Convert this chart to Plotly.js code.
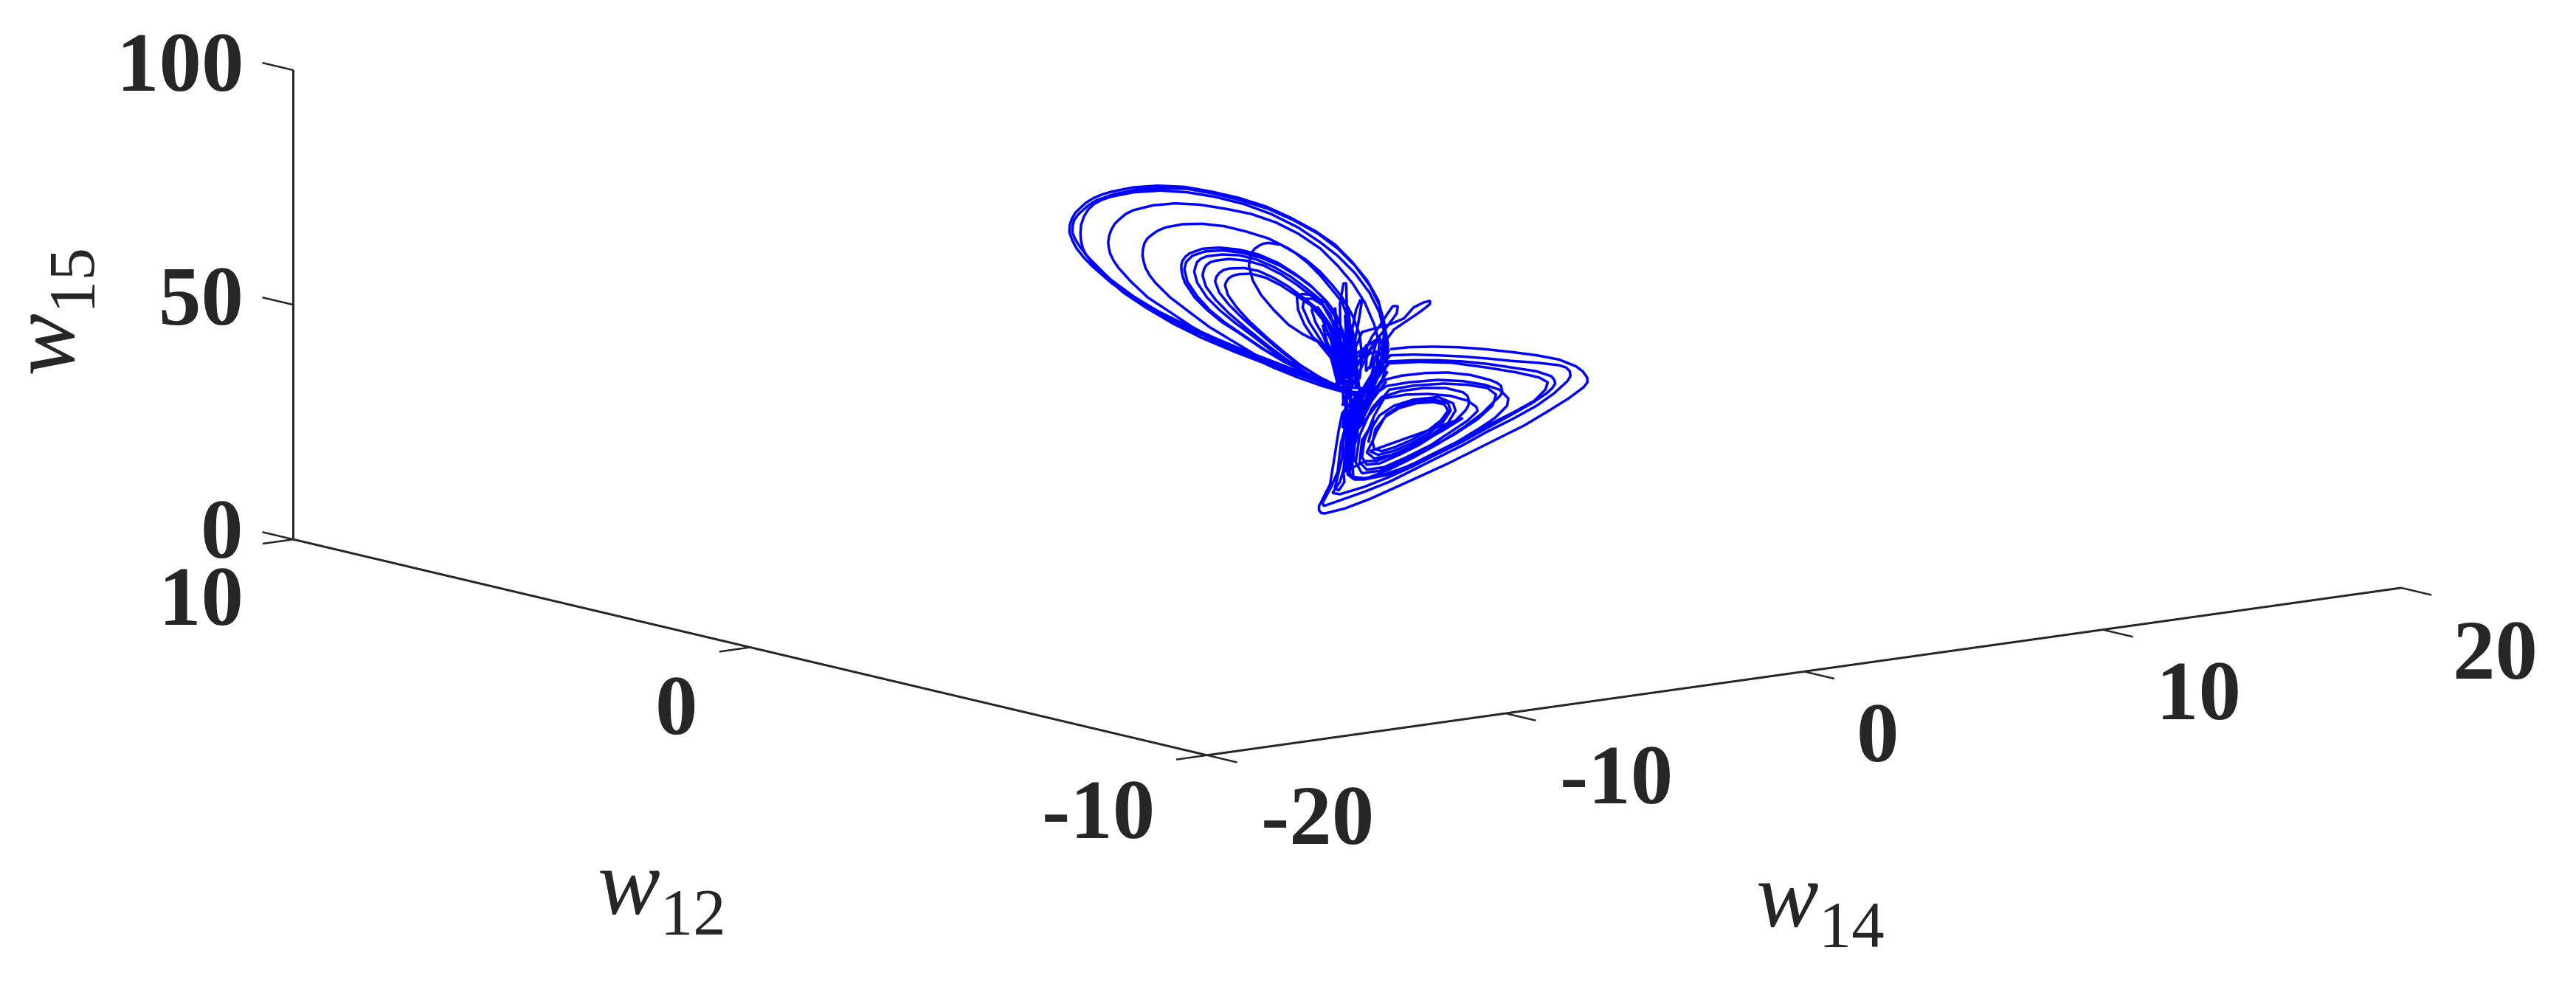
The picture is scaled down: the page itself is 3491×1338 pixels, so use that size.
<!DOCTYPE html>
<html><head><meta charset="utf-8">
<script src="https://cdn.plot.ly/plotly-3.0.1.min.js"></script>
<style>
html,body{margin:0;padding:0;background:#fff}
#chart{width:3491px;height:1338px}
</style></head><body><div id="chart"></div>
<script>
// Upper wing of the attractor, one row per visible loop (w14, w15; w12 is an estimated depth)
const w14Upper=[
3.22,2.56,1.74,0.75,-0.32,-1.39,-2.38,-3.20,-4.03,-4.85,-5.51,-5.78,-6.01,-6.15,-6.25,-6.24,-6.17,-6.05,-5.88,-5.68,-5.43,-5.16,-4.85,-4.11,-3.29,-2.38,-1.47,-0.57,0.34,1.16,1.99,2.65,3.22,3.72,4.09,4.29,4.42,4.38,4.21,3.88,
2.81,1.74,0.67,-0.40,-1.47,-2.46,-3.29,-4.11,-4.89,-5.47,-5.72,-5.92,-6.06,-6.15,-6.14,-6.09,-5.96,-5.80,-5.59,-5.35,-4.77,-4.03,-3.20,-2.30,-1.39,-0.49,0.42,1.25,2.07,2.73,3.31,3.80,4.13,4.29,4.34,4.13,3.64,
2.73,2.15,1.33,0.34,-0.73,-1.80,-2.79,-3.70,-4.44,-5.10,-5.51,-5.68,-5.80,-5.86,-5.88,-5.86,-5.76,-5.62,-5.43,-5.17,-4.85,-4.11,-3.20,-2.30,-1.39,-0.40,0.50,1.41,2.15,2.73,3.31,3.80,4.13,4.29,4.21,3.88,3.39,
2.23,1.41,0.59,-0.40,-1.31,-2.13,-2.87,-3.62,-4.19,-4.60,-4.77,-4.89,-4.93,-4.95,-4.92,-4.85,-4.73,-4.56,-4.36,-4.11,-3.45,-2.71,-1.89,-0.98,-0.16,0.67,1.41,2.15,2.73,3.22,3.64,3.96,4.13,4.05,3.64,
2.48,1.74,0.83,0.01,-0.81,-1.56,-2.22,-2.87,-3.37,-3.56,-3.70,-3.76,-3.80,-3.79,-3.74,-3.64,-3.49,-3.29,-3.04,-2.46,-1.80,-1.06,-0.32,0.42,1.08,1.66,2.15,2.56,2.89,3.22,3.47,3.55,3.47,
2.56,1.74,0.92,0.17,-0.49,-1.14,-1.64,-2.05,-2.38,-2.46,-2.50,-2.50,-2.46,-2.36,-2.22,-1.80,-1.23,-0.57,0.09,0.75,1.33,1.82,2.32,2.65,2.98,3.14,
2.65,1.82,1.00,0.26,-0.40,-1.06,-1.56,-1.97,-2.30,-2.40,-2.34,-2.13,-1.72,-1.14,-0.49,0.17,0.83,1.41,1.90,2.40,2.81,3.06,
2.73,2.15,1.41,0.67,-0.07,-0.73,-1.23,-1.64,-1.97,-2.07,-2.03,-1.97,-1.83,-1.64,-1.14,-0.57,0.01,0.59,1.16,1.66,2.07,2.48,2.89,3.14,
2.56,1.74,1.00,0.34,-0.32,-0.90,-1.35,-1.68,-1.79,-1.75,-1.68,-1.54,-1.35,-0.90,-0.32,0.26,0.83,1.33,1.82,2.23,2.65,2.98,3.22,
2.65,1.99,1.33,0.75,0.17,-0.40,-0.90,-1.23,-1.37,-1.33,-1.23,-1.09,-0.90,-0.40,0.09,0.59,1.08,1.58,1.99,2.40,2.73,2.98,
2.73,2.15,1.49,0.92,0.34,-0.24,-0.65,-0.94,-1.04,-0.99,-0.90,-0.75,-0.57,-0.16,0.34,0.83,1.33,1.82,2.23,2.56,2.81,
2.07,1.58,1.08,0.59,0.17,-0.11,-0.24,-0.16,-0.05,0.09,0.24,0.42,0.83,1.33,1.74,2.15,2.56,2.89,3.14,3.22,3.31,
1.90,1.62,1.41,1.37,1.53,1.90,2.32,2.65,2.89,
3.14,2.15,1.78,1.56,1.62,1.90,2.23,2.56,2.81,
3.06,2.32,1.99,1.86,2.07,2.48,2.73,2.81,
2.44,2.23,2.73,2.65,2.85,2.81,2.93,3.02,3.10,2.98,3.22,3.10,3.35,3.18,3.47,2.89,2.56,2.98,2.81,2.23,2.77,2.48,2.98,3.14,3.39,
3.31,3.22,3.35,3.50,3.54,3.43,3.31,3.39,
3.31,3.55,4.46,4.95,5.28,5.61,5.83,5.82,5.53,4.62,4.38,4.05,
3.80,4.05,4.38,4.71,4.75,4.58,4.38,4.17,3.88,3.59,
3.31,4.13,4.29,3.68,3.72,3.43,4.05,3.80,4.29,3.72];
const w15Upper=[
29.85,30.95,33.52,36.76,40.34,44.17,47.94,51.30,55.18,59.58,63.84,65.90,67.94,69.75,71.57,73.02,74.38,75.58,76.48,77.44,78.17,78.66,78.97,79.25,78.88,77.80,75.96,73.84,71.19,68.09,64.48,61.01,56.83,52.46,47.94,43.03,38.21,34.06,30.53,27.16,
30.21,34.05,37.63,41.20,45.04,48.80,52.15,56.04,60.40,64.58,66.53,68.40,69.99,71.48,72.88,74.04,75.08,75.89,76.85,77.57,78.37,78.66,78.28,77.31,75.46,73.23,70.60,67.50,63.89,60.15,55.97,51.33,46.85,41.99,37.23,32.18,28.43,
30.02,32.11,34.68,37.66,41.23,45.07,49.09,53.31,57.11,61.37,64.62,66.18,67.76,69.39,70.98,72.79,74.54,75.87,76.86,77.52,77.92,78.20,77.76,76.58,74.83,72.38,69.47,65.78,61.97,58.58,54.39,49.76,45.28,40.94,35.77,30.83,28.12,
31.25,33.81,36.65,40.41,44.10,47.72,51.53,55.33,59.25,62.50,64.22,65.91,67.14,68.31,69.59,70.84,72.04,72.94,73.81,74.38,74.83,74.59,73.59,71.85,70.06,67.50,64.47,60.66,56.49,52.38,47.82,42.81,38.47,33.82,29.48,
31.03,33.52,36.43,39.78,43.66,47.21,50.94,54.67,58.26,60.00,61.69,63.06,64.40,65.70,66.97,67.93,68.59,69.29,69.75,69.92,69.43,68.25,66.44,64.31,61.62,58.75,55.69,52.43,49.52,45.57,41.15,36.36,31.72,
31.21,34.31,37.66,41.21,44.67,47.88,50.94,53.93,57.37,58.92,60.37,61.30,62.16,62.95,63.52,64.09,63.84,62.83,61.19,58.77,55.90,53.10,49.52,46.60,41.07,35.16,
30.88,33.98,37.33,40.87,44.34,47.81,50.87,54.13,57.56,60.28,61.79,62.91,63.44,63.18,62.12,60.44,58.07,55.30,52.50,48.92,43.83,37.32,
30.29,32.63,35.65,39.46,43.79,47.51,50.58,53.56,57.01,59.46,60.47,61.46,62.07,62.37,62.29,61.63,60.22,58.13,55.52,52.72,50.26,46.23,39.57,33.06,
30.95,34.31,38.11,41.85,45.84,49.50,52.79,55.96,58.42,59.54,60.42,60.98,61.17,61.13,60.25,58.69,56.34,53.81,51.01,48.54,43.98,37.40,31.94,
30.88,33.83,37.04,40.43,44.09,47.75,51.33,54.25,56.74,57.69,58.44,58.94,59.09,58.75,57.68,55.78,53.50,50.70,48.24,44.20,38.67,33.21,
30.81,33.15,36.36,39.76,43.42,47.34,50.59,53.47,55.65,56.44,57.10,57.49,57.59,57.33,56.00,53.98,51.45,48.91,45.40,39.86,34.40,
40.83,42.84,45.38,48.96,52.48,55.87,59.13,61.68,62.52,63.03,63.37,63.37,62.63,60.36,57.89,54.90,51.39,48.48,43.54,38.23,32.91,
42.02,44.90,48.22,50.88,51.52,50.93,49.00,45.55,38.52,
31.49,41.28,45.27,48.62,50.40,50.14,48.54,44.57,37.54,
32.08,41.14,45.09,47.82,48.17,44.13,38.67,32.30,
38.93,44.35,31.33,47.65,31.22,48.28,52.52,52.45,31.00,45.79,30.37,46.72,29.74,43.50,29.10,42.71,40.91,31.11,41.73,42.25,33.39,41.51,34.26,41.44,32.84,
40.25,42.42,46.50,48.56,47.91,43.80,39.72,34.94,
38.15,41.60,42.36,43.23,45.30,46.06,46.22,45.50,44.29,41.17,39.30,36.44,
33.52,39.59,41.92,44.50,46.04,46.18,44.54,42.62,40.26,36.85,
33.96,40.04,37.27,33.11,38.84,36.47,36.97,30.37,33.08,28.36];
const w12Upper=[
2,2,2,2,2,2,2,2,2,2,2,2,2,2,2,2,2,2,2,2,2,2,2,2,2,2,2,2,2,2,2,2,2,2,2,2,2,2,2,2,
2,2,2,2,2,2,2,2,2,2,2,2,2,2,2,2,2,2,2,2,2,2,2,2,2,2,2,2,2,2,2,2,2,2,2,2,2,
2,2,2,2,2,2,2,2,2,2,2,2,2,2,2,2,2,2,2,2,2,2,2,2,2,2,2,2,2,2,2,2,2,2,2,2,2,
2,2,2,2,2,2,2,2,2,2,2,2,2,2,2,2,2,2,2,2,2,2,2,2,2,2,2,2,2,2,2,2,2,2,2,
2,2,2,2,2,2,2,2,2,2,2,2,2,2,2,2,2,2,2,2,2,2,2,2,2,2,2,2,2,2,2,2,2,
2,2,2,2,2,2,2,2,2,2,2,2,2,2,2,2,2,2,2,2,2,2,2,2,2,2,
2,2,2,2,2,2,2,2,2,2,2,2,2,2,2,2,2,2,2,2,2,2,
2,2,2,2,2,2,2,2,2,2,2,2,2,2,2,2,2,2,2,2,2,2,2,2,
2,2,2,2,2,2,2,2,2,2,2,2,2,2,2,2,2,2,2,2,2,2,2,
2,2,2,2,2,2,2,2,2,2,2,2,2,2,2,2,2,2,2,2,2,2,
2,2,2,2,2,2,2,2,2,2,2,2,2,2,2,2,2,2,2,2,2,
2,2,2,2,2,2,2,2,2,2,2,2,2,2,2,2,2,2,2,2,2,
2,2,2,2,2,2,2,2,2,
2,2,2,2,2,2,2,2,2,
2,2,2,2,2,2,2,2,
2,2,2,2,2,2,2,2,2,2,2,2,2,2,2,2,2,2,2,2,2,2,2,2,2,
2,2,2,2,2,2,2,2,
2,2,2,2,2,2,2,2,2,2,2,2,
2,2,2,2,2,2,2,2,2,2,
2,2,2,2,2,2,2,2,2,2];
// Lower wing
const w14Lower=[
-1.62,-1.00,-0.18,0.64,1.55,2.46,3.28,4.02,4.60,4.82,4.97,4.98,4.85,4.35,3.69,2.87,2.04,1.22,0.31,-0.59,-1.50,-2.32,-3.15,-3.81,-3.93,-4.01,-4.01,-3.93,-3.64,-3.52,-3.35,-3.23,-2.82,
-1.62,-0.84,-0.02,0.81,1.63,2.46,3.28,4.02,4.27,4.39,4.41,4.31,3.86,3.28,2.46,1.63,0.81,-0.02,-0.84,-1.66,-2.49,-3.31,-3.85,-3.89,-3.60,-3.39,-3.27,-2.98,
-1.66,-0.84,-0.02,0.81,1.63,2.46,3.28,3.77,3.87,3.90,3.79,3.61,3.12,2.46,1.63,0.81,-0.02,-0.84,-1.66,-2.49,-3.31,-3.56,-3.31,-3.19,-3.07,-2.90,
-1.66,-0.68,0.40,1.63,2.62,3.36,3.65,3.57,3.20,2.46,1.63,0.81,-0.02,-0.84,-1.66,-2.49,-2.82,-3.05,-3.11,-2.90,
-1.83,-1.25,-0.43,0.31,1.06,1.71,1.95,2.09,2.13,2.04,1.88,1.47,0.81,-0.02,-0.84,-1.66,-2.41,-2.90,-3.02,-2.98,-2.57,
-1.75,-1.00,-0.02,0.81,1.55,2.04,2.33,2.29,1.88,1.39,0.64,-0.18,-1.00,-1.83,-2.49,-2.86,-2.90,-2.74,
-1.66,-0.84,0.15,0.97,1.63,1.92,1.80,1.30,0.48,-0.35,-1.17,-1.99,-2.57,-2.78,-2.65,-2.24,
-1.91,-1.25,-0.51,0.23,0.81,0.96,1.01,0.99,0.89,0.56,-0.02,-0.67,-1.33,-1.99,-2.41,-2.57,-2.49,-2.16,
-1.83,-1.09,-0.35,0.40,0.97,1.26,1.30,0.97,0.48,-0.26,-1.09,-1.83,-2.41,-2.65,-2.57,-2.16,
-2.36,-2.24,-1.99,-1.50,-0.84,-0.02,0.48,0.56,0.31,-0.26,-0.92,-1.58,-2.16,-2.41,
-2.20,-2.12,-1.79,-1.33,-0.76,-0.18,0.19,0.31,0.07,-0.35,-0.92,-1.50,-1.91,-2.16,-2.22,
-2.08,-1.75,-1.33,-0.76,-0.14,0.31,0.40,0.15,-0.30,-0.92,-1.54,-2.03,-2.31,
0.81,0.15,-0.59,-1.33,-2.08,-2.45,
-3.19,-3.16,-3.35,-3.48,-3.39,-3.23,
-3.07,-3.11,-2.94,-2.98,-2.82,-2.86,-2.69,-2.78,-2.49,-3.19,-2.24,-2.98,-2.03,-3.15,-1.83,-2.57,-1.71,-2.82,-1.75,-2.49,-2.12,-2.90,-1.66,-3.23,-2.98,-3.19,-3.23,-2.69,-3.48,-2.98,-3.64,-2.78,-3.23,-2.49,-2.08,-2.90,-3.97];
const w15Lower=[
51.75,51.62,50.99,50.15,48.92,47.48,46.07,44.52,42.53,41.29,39.84,38.80,37.86,35.94,33.91,31.51,29.62,27.74,25.66,23.84,22.03,20.42,19.15,18.70,18.86,19.56,20.45,21.32,24.73,29.34,36.01,39.57,42.34,
50.44,49.90,49.01,48.01,46.86,45.59,44.50,43.31,42.57,41.67,40.61,39.65,37.44,35.33,33.18,31.30,29.14,27.26,25.37,23.49,22.14,21.03,20.31,21.02,24.18,27.13,33.31,39.87,
49.17,48.69,47.96,46.96,45.71,44.18,42.66,41.18,40.30,39.49,38.54,37.66,36.00,34.22,32.08,29.93,28.05,26.16,24.54,23.19,22.34,22.83,24.96,27.47,34.70,40.84,
48.75,48.19,47.07,44.92,42.99,41.28,39.98,38.47,36.45,34.49,32.61,30.45,28.57,26.68,25.07,24.76,25.05,26.30,31.07,38.74,
45.39,45.76,45.61,45.05,43.86,42.23,41.39,40.59,39.24,38.42,37.63,35.38,32.81,30.15,27.99,26.11,24.94,25.38,27.32,34.63,41.07,
44.00,44.13,43.77,42.77,41.32,39.83,37.75,36.21,33.96,32.30,30.08,27.94,26.31,25.22,25.02,25.61,28.79,35.46,
43.14,43.29,42.83,41.84,40.57,38.90,36.65,34.21,31.54,29.39,27.51,26.14,26.14,28.68,34.33,39.72,
41.79,42.51,42.48,41.82,40.41,39.49,38.40,37.37,36.41,34.61,32.50,30.47,28.97,27.71,27.82,29.54,33.14,38.08,
41.46,41.59,41.07,39.99,38.44,36.87,35.94,34.24,32.59,30.10,28.22,26.79,26.77,28.57,33.21,37.03,
32.50,35.53,37.93,39.59,40.31,40.10,38.35,36.71,34.31,32.20,30.43,29.19,28.91,30.44,
32.88,35.16,37.49,38.92,39.45,39.20,38.35,36.93,35.05,33.32,31.74,30.68,30.26,31.01,32.63,
34.61,37.97,39.29,39.87,39.69,38.50,36.85,34.71,32.76,31.06,29.93,29.59,30.61,
34.91,32.88,30.92,29.49,28.32,28.65,
26.95,24.83,23.17,23.80,26.08,30.13,
43.61,26.88,44.55,26.25,42.86,28.76,43.80,32.87,44.15,34.81,46.01,30.96,47.93,38.44,50.89,40.02,47.11,37.10,45.05,39.43,42.76,33.50,51.79,36.42,46.16,41.10,47.95,38.04,49.74,42.49,51.98,49.11,41.14,49.91,54.26,51.32,54.64];
const w12Lower=[
-2,-2,-2,-2,-2,-2,-2,-2,-2,-2,-2,-2,-2,-2,-2,-2,-2,-2,-2,-2,-2,-2,-2,-2,-2,-2,-2,-2,-2,-2,-2,-2,-2,
-2,-2,-2,-2,-2,-2,-2,-2,-2,-2,-2,-2,-2,-2,-2,-2,-2,-2,-2,-2,-2,-2,-2,-2,-2,-2,-2,-2,
-2,-2,-2,-2,-2,-2,-2,-2,-2,-2,-2,-2,-2,-2,-2,-2,-2,-2,-2,-2,-2,-2,-2,-2,-2,-2,
-2,-2,-2,-2,-2,-2,-2,-2,-2,-2,-2,-2,-2,-2,-2,-2,-2,-2,-2,-2,
-2,-2,-2,-2,-2,-2,-2,-2,-2,-2,-2,-2,-2,-2,-2,-2,-2,-2,-2,-2,-2,
-2,-2,-2,-2,-2,-2,-2,-2,-2,-2,-2,-2,-2,-2,-2,-2,-2,-2,
-2,-2,-2,-2,-2,-2,-2,-2,-2,-2,-2,-2,-2,-2,-2,-2,
-2,-2,-2,-2,-2,-2,-2,-2,-2,-2,-2,-2,-2,-2,-2,-2,-2,-2,
-2,-2,-2,-2,-2,-2,-2,-2,-2,-2,-2,-2,-2,-2,-2,-2,
-2,-2,-2,-2,-2,-2,-2,-2,-2,-2,-2,-2,-2,-2,
-2,-2,-2,-2,-2,-2,-2,-2,-2,-2,-2,-2,-2,-2,-2,
-2,-2,-2,-2,-2,-2,-2,-2,-2,-2,-2,-2,-2,
-2,-2,-2,-2,-2,-2,
-2,-2,-2,-2,-2,-2,
-2,-2,-2,-2,-2,-2,-2,-2,-2,-2,-2,-2,-2,-2,-2,-2,-2,-2,-2,-2,-2,-2,-2,-2,-2,-2,-2,-2,-2,-2,-2,-2,-2,-2,-2,-2,-2,-2,-2,-2,-2,-2,-2];
const w12Ticks=[-10,0,10], w14Ticks=[-20,-10,0,10,20], w15Ticks=[0,50,100];
const ink='#262626';
function tick(x,y,z,t,xs,ys){return {x:x,y:y,z:z,text:t,showarrow:false,xshift:xs,yshift:ys,xanchor:'center',yanchor:'middle',font:{family:'Liberation Serif',size:115,color:ink,weight:700}};}
function ttl(x,y,z,t,xs,ys,ang){return {x:x,y:y,z:z,text:t,showarrow:false,xshift:xs,yshift:ys,textangle:ang||0,xanchor:'center',yanchor:'middle',font:{family:'Liberation Serif',size:127,color:ink}};}
const ax=(r)=>({visible:false,range:r,showgrid:false,zeroline:false,showbackground:false,showspikes:false});
const dir=[-0.600,-0.779,0.182], d=6, c={x:-0.0953,y:0.0734,z:-0.339};
const layout={width:3491,height:1338,margin:{l:0,r:0,t:0,b:0},paper_bgcolor:'#fff',showlegend:false,
scene:{domain:{x:[0,1],y:[0,1]},aspectmode:'manual',aspectratio:{x:3.054*1.1,y:3.033*1.1,z:0.967*1.02},
camera:{projection:{type:'orthographic'},up:{x:0,y:0,z:1},center:c,eye:{x:c.x+d*dir[0],y:c.y+d*dir[1],z:c.z+d*dir[2]}},
xaxis:ax([-22,22]),yaxis:ax([-11,11]),zaxis:ax([-1,101]),
annotations:[
ttl(-20,0,0,'<i>w</i><sub>12</sub>',-120,-328),
ttl(0,-10,0,'<i>w</i><sub>14</sub>',22,-312),
ttl(-20,10,50,'<i>w</i><sub>15</sub>',-331,-10,-90),
tick(-20,10,100,'100',-153,11),tick(-20,10,50,'50',-125,12),tick(-20,10,0,'0',-97,14),
tick(-20,10,0,'10',-125,-77),tick(-20,0,0,'0',-100,-79),tick(-20,-10,0,'-10',-147,-74),
tick(-20,-10,0,'-20',150,-82),tick(-10,-10,0,'-10',150,-83),tick(0,-10,0,'0',100,-83),tick(10,-10,0,'10',130,-83),tick(20,-10,0,'20',127,-85)
]}};
const line={color:'#0000ff',width:7};
// axis frame and ticks, built from the tick values
const fx=[],fy=[],fz=[];
function seg(a,b){fx.push(a[0],b[0],null);fy.push(a[1],b[1],null);fz.push(a[2],b[2],null);}
seg([-20,10,0],[-20,-10,0]);seg([-20,-10,0],[20,-10,0]);seg([-20,10,0],[-20,10,100]);
const tx=[],ty=[],tz=[];
function tk(a,b){tx.push(a[0],b[0],null);ty.push(a[1],b[1],null);tz.push(a[2],b[2],null);}
w14Ticks.forEach(v=>tk([v,-10,0],[v,-10.66,0]));
w12Ticks.forEach(v=>tk([-20,v,0],[-21.03,v,0]));
w15Ticks.forEach(v=>tk([-20,10,v],[-20,10.68,v]));
Plotly.newPlot('chart',[
 {type:'scatter3d',mode:'lines',x:fx,y:fy,z:fz,line:{color:ink,width:6},hoverinfo:'skip',connectgaps:false},
 {type:'scatter3d',mode:'lines',x:tx,y:ty,z:tz,line:{color:ink,width:5},hoverinfo:'skip',connectgaps:false},
 {type:'scatter3d',mode:'lines',x:w14Upper,y:w12Upper,z:w15Upper,line:line,hoverinfo:'skip'},
 {type:'scatter3d',mode:'lines',x:w14Lower,y:w12Lower,z:w15Lower,line:line,hoverinfo:'skip'}
],layout,{displayModeBar:false});
</script></body></html>
